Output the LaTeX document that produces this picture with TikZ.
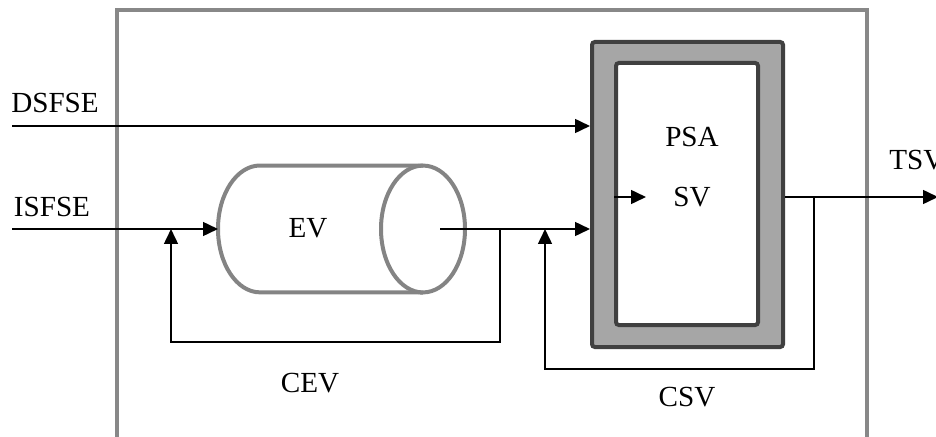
\documentclass[tikz,border=0pt]{standalone}
\usepackage{fontspec}
\setmainfont{Liberation Serif}
\usetikzlibrary{arrows.meta}
\definecolor{framegray}{HTML}{888888}
\definecolor{shellgray}{HTML}{A6A6A6}
\definecolor{edgegray}{HTML}{404040}
\definecolor{tankgray}{HTML}{848484}

\begin{document}
\begin{tikzpicture}[x=0.35pt, y=-0.35pt, font=\fontsize{10.2}{12}\selectfont,
  flow/.style={-{Triangle[length=5.2pt,width=4.8pt]}, line width=0.7pt},
  lbl/.style={inner sep=1pt},
  shell/.style={draw=edgegray, fill=shellgray, line width=1.4pt, rounded corners=1pt},
  core/.style={draw=edgegray, fill=white, line width=1.4pt, rounded corners=1pt},
  tank/.style={draw=tankgray, line width=1.4pt}]
  \useasboundingbox (0,0) rectangle (936,437);
  % outer frame, open at the bottom
  \draw[framegray, line width=1.4pt] (117,445) -- (117,10) -- (867,10) -- (867,445);

  % tank EV: body with rounded back and open front
  \draw[tank] (423,165.5) -- (260,165.5)
    arc[start angle=90, end angle=270, x radius=14.7pt, y radius=22.2pt] -- (423,292.5);
  \draw[tank] (423,229) ellipse[x radius=14.7pt, y radius=22.2pt];
  \node[lbl] (ev) at (308,228) {EV};

  % PSA blocks
  \node[shell, minimum width={191*0.35pt}, minimum height={305*0.35pt}] (psa) at (687.5,194.5) {};
  \node[core, minimum width={142*0.35pt}, minimum height={262*0.35pt}] (core) at (687,194) {};
  \node[lbl] (psaTxt) at (692,137) {PSA};
  \node[lbl] (sv) at (692,197) {SV};

  % labels
  \node[lbl] (dsfse) at (55,103) {DSFSE};
  \node[lbl] (isfse) at (52,207) {ISFSE};
  \node[lbl, anchor=west] (tsv) at (886,160) {TSV};
  \node[lbl] (cev) at (310,383) {CEV};
  \node[lbl] (csv) at (687,397) {CSV};

  % free ends and taps
  \coordinate (dsIn) at (12,126);
  \coordinate (isIn) at (12,229);
  \coordinate (evIn) at (218,229);
  \coordinate (evOut) at (440,229);
  \coordinate (cevTap) at (500,229);
  \coordinate (cevLow) at (171,342);
  \coordinate (cevIn) at (171,229);
  \coordinate (csvTap) at (814,197);
  \coordinate (csvLow) at (545,369);
  \coordinate (csvIn) at (545,229);
  \coordinate (svTip) at (646,197);
  \coordinate (tsvOut) at (938,197);

  % connectors
  \draw[flow] (dsIn) -- (dsIn -| psa.west);
  \draw[flow] (isIn) -- (evIn);
  \draw[flow] (evOut) -- (evOut -| psa.west);
  \draw[flow] (cevTap) |- (cevLow) -- (cevIn);
  \draw[flow] (csvTap) |- (csvLow) -- (csvIn);
  \draw[flow] (core.west |- svTip) -- (svTip);
  \draw[flow] (psa.east |- csvTap) -- (tsvOut);
\end{tikzpicture}
\end{document}
